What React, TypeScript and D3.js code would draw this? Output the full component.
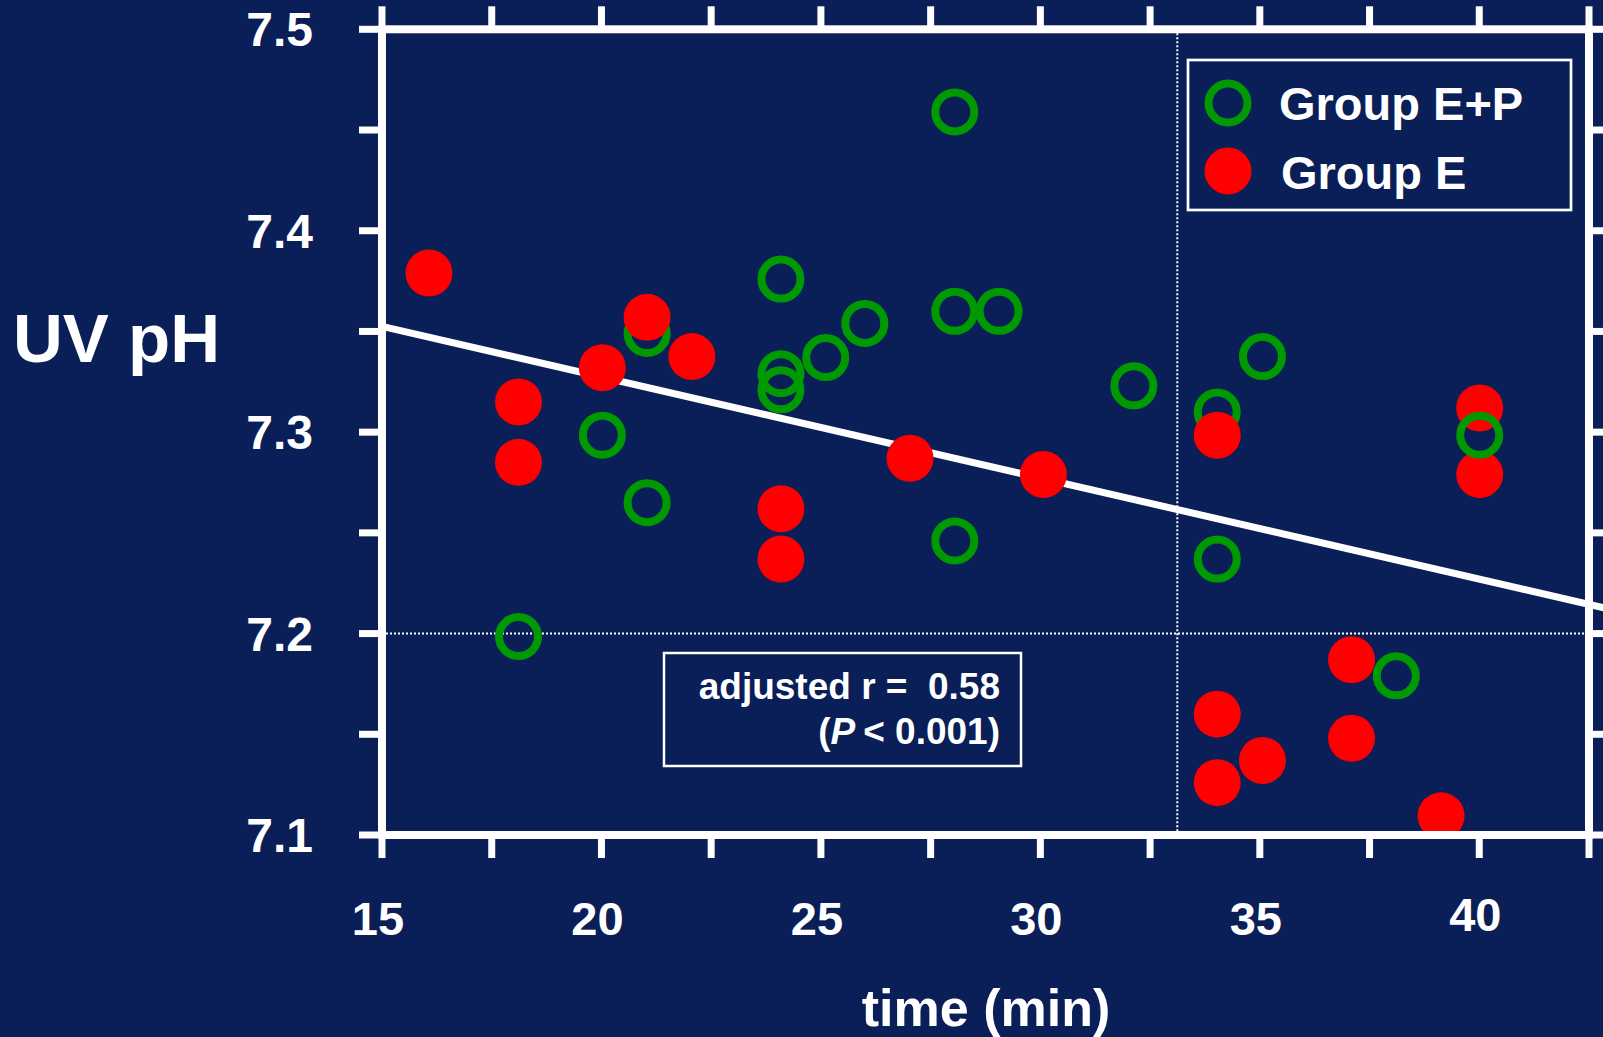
import React from "react";
import * as d3 from "d3";

// ---- data ----
const groupE_time = [16.07, 18.11, 18.11, 20.02, 21.04, 22.06, 24.09, 24.09, 27.03, 30.07, 34.03, 34.03, 34.03, 35.06, 37.09, 37.09, 39.13, 40.01, 40.01];
const groupE_pH = [7.379, 7.315, 7.285, 7.332, 7.357, 7.3375, 7.262, 7.237, 7.287, 7.279, 7.2985, 7.16, 7.126, 7.137, 7.187, 7.148, 7.1095, 7.312, 7.279];

const groupEP_time = [18.11, 20.02, 21.04, 21.04, 24.09, 24.09, 24.09, 25.11, 26.0, 28.05, 28.05, 29.06, 28.05, 32.13, 34.03, 34.03, 35.06, 38.11, 40.01];
const groupEP_pH = [7.1985, 7.2985, 7.349, 7.265, 7.376, 7.329, 7.321, 7.337, 7.354, 7.459, 7.36, 7.36, 7.246, 7.323, 7.31, 7.237, 7.3375, 7.179, 7.2985];

const fitTime = [15, 43];
const fitPH = [7.3525, 7.212];

const xTickValues = [15, 17.5, 20, 22.5, 25, 27.5, 30, 32.5, 35, 37.5, 40, 42.5];
const xTickLabels = ["15", "20", "25", "30", "35", "40"];
const yTickValues = [7.1, 7.15, 7.2, 7.25, 7.3, 7.35, 7.4, 7.45, 7.5];
const yTickLabels = ["7.1", "7.2", "7.3", "7.4", "7.5"];

const refTime = 33.12;
const refPH = 7.2;

const legendLabels = ["Group E+P", "Group E"];
const annotationLine1 = "adjusted r =  0.58";

// ---- styling ----
const W = 1603;
const H = 1037;
const BG = "rgb(10,30,88)";
const GREEN = "#009900";
const RED = "#ff0000";
const FONT = "'Liberation Sans', Arial, Helvetica, sans-serif";

export default function App() {
  const x = d3.scaleLinear().domain([15, 42.5]).range([382, 1589]);
  const y = d3.scaleLinear().domain([7.1, 7.5]).range([835, 29.3]);
  const [x0, x1] = x.range();
  const [y0, y1] = y.range(); // y0 bottom, y1 top
  const tickLen = 23;

  const line = d3
    .line<number>()
    .x((_, i) => x(fitTime[i]))
    .y((d) => y(d));

  const ep = groupEP_time.map((t, i) => ({ t, v: groupEP_pH[i] }));
  const e = groupE_time.map((t, i) => ({ t, v: groupE_pH[i] }));
  const epBelow = ep.filter((d) => d.t < 36);
  const epAbove = ep.filter((d) => d.t >= 36);

  const ring = (d: { t: number; v: number }, i: number, k: string) => (
    <circle key={k + i} cx={x(d.t)} cy={y(d.v)} r={19.5} fill="none" stroke={GREEN} strokeWidth={8} />
  );
  const dot = (d: { t: number; v: number }, i: number) => (
    <circle key={"e" + i} cx={x(d.t)} cy={y(d.v)} r={23.5} fill={RED} />
  );

  return (
    <div style={{ position: "fixed", left: 0, top: 0, width: W, height: H, background: BG, overflow: "hidden" }}>
      <svg width={W} height={H} style={{ display: "block" }} fontFamily={FONT}>
        <rect x={0} y={0} width={W} height={H} fill={BG} />

        {/* reference dotted lines */}
        <line x1={x0} x2={x1} y1={y(refPH)} y2={y(refPH)} stroke="white" strokeWidth={2} strokeDasharray="2,2" />
        <line x1={x(refTime)} x2={x(refTime)} y1={y1} y2={y0} stroke="white" strokeWidth={2} strokeDasharray="2,2" />

        {/* regression line */}
        <path d={line(fitPH) || ""} stroke="white" strokeWidth={7} fill="none" />

        {/* points */}
        {epBelow.map((d, i) => ring(d, i, "g"))}
        {e.map(dot)}
        {epAbove.map((d, i) => ring(d, i, "ga"))}

        {/* frame */}
        <rect x={x0} y={y1} width={x1 - x0} height={y0 - y1} fill="none" stroke="white" strokeWidth={8} />

        {/* ticks */}
        {xTickValues.map((v) => (
          <g key={"xt" + v}>
            <line x1={x(v)} x2={x(v)} y1={y0} y2={y0 + tickLen} stroke="white" strokeWidth={7} />
            <line x1={x(v)} x2={x(v)} y1={y1} y2={y1 - tickLen} stroke="white" strokeWidth={7} />
          </g>
        ))}
        {yTickValues.map((v) => (
          <g key={"yt" + v}>
            <line x1={x0} x2={x0 - tickLen} y1={y(v)} y2={y(v)} stroke="white" strokeWidth={7} />
            <line x1={x1} x2={x1 + tickLen} y1={y(v)} y2={y(v)} stroke="white" strokeWidth={7} />
          </g>
        ))}

        {/* tick labels */}
        {xTickLabels.map((s) => (
          <text key={"xl" + s} x={x(+s) - 4} y={s === "40" ? 931 : 935} textAnchor="middle" fill="white" fontWeight="bold" fontSize={47}>
            {s}
          </text>
        ))}
        {yTickLabels.map((s) => (
          <text key={"yl" + s} x={313} y={y(+s) + 17} textAnchor="end" fill="white" fontWeight="bold" fontSize={48}>
            {s}
          </text>
        ))}

        {/* axis titles */}
        <text x={13} y={362} fill="white" fontWeight="bold" fontSize={69}>
          UV pH
        </text>
        <text x={986} y={1026} textAnchor="middle" fill="white" fontWeight="bold" fontSize={52}>
          time (min)
        </text>

        {/* legend */}
        <rect x={1188} y={60} width={383} height={150} fill={BG} stroke="white" strokeWidth={2.7} />
        <circle cx={1228} cy={103} r={19.5} fill="none" stroke={GREEN} strokeWidth={8} />
        <circle cx={1228} cy={171} r={23.5} fill={RED} />
        <text x={1279} y={120} fill="white" fontWeight="bold" fontSize={47}>
          {legendLabels[0]}
        </text>
        <text x={1281} y={189} fill="white" fontWeight="bold" fontSize={47}>
          {legendLabels[1]}
        </text>

        {/* annotation */}
        <rect x={664} y={653} width={357} height={113} fill={BG} stroke="white" strokeWidth={2.5} />
        <text x={1000} y={699} textAnchor="end" fill="white" fontWeight="bold" fontSize={37} style={{ whiteSpace: "pre" }}>
          {annotationLine1}
        </text>
        <text x={1000} y={744} textAnchor="end" fill="white" fontWeight="bold" fontSize={37} style={{ whiteSpace: "pre" }}>
          (<tspan fontStyle="italic">P</tspan><tspan dx={8}>&lt; 0.001)</tspan>
        </text>
      </svg>
    </div>
  );
}
